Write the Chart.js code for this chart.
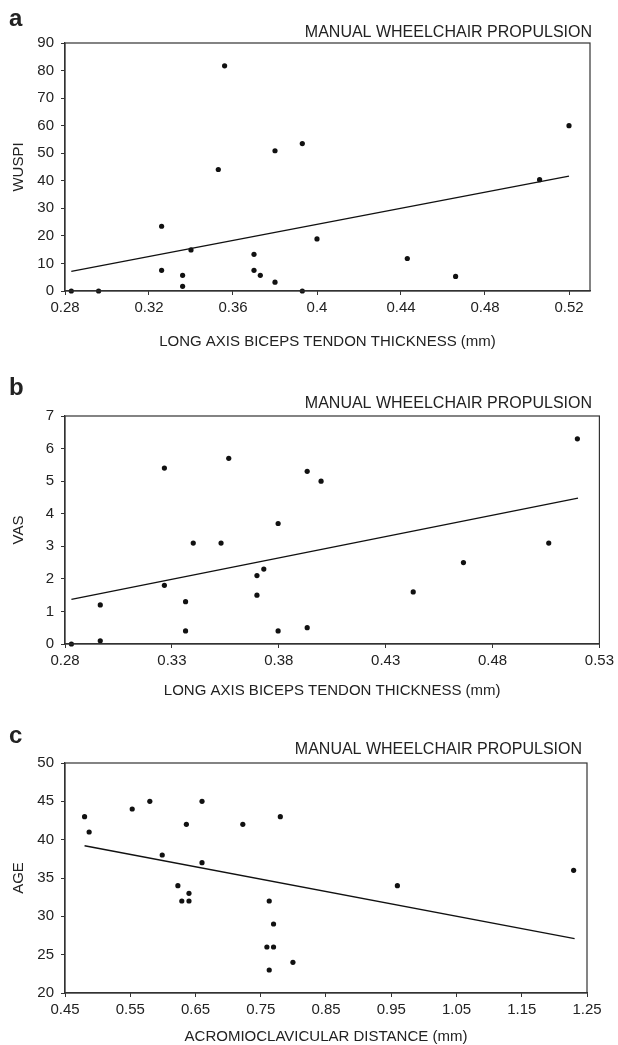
<!DOCTYPE html>
<html>
<head>
<meta charset="utf-8">
<script src="https://cdn.jsdelivr.net/npm/chart.js@4.4.1/dist/chart.umd.min.js"></script>
<style>
  html, body { margin: 0; padding: 0; background: #fff; }
  #wrap { position: relative; width: 618px; height: 1045px; }
  canvas { position: absolute; left: 0; }
</style>
</head>
<body>
<div id="wrap">
  <canvas id="panelA" width="618" height="350" style="top:0px"></canvas>
  <canvas id="panelB" width="618" height="350" style="top:350px"></canvas>
  <canvas id="panelC" width="618" height="345" style="top:700px"></canvas>
</div>
<script>
// panel a: WUSPI vs long axis biceps tendon thickness
var aX = [0.283, 0.296, 0.326, 0.326, 0.336, 0.336, 0.34, 0.353, 0.356, 0.37, 0.37, 0.373, 0.38, 0.38, 0.393, 0.393, 0.4, 0.443, 0.466, 0.506, 0.52];
var aY = [0, 0, 23.5, 7.5, 5.7, 1.7, 14.9, 44.1, 81.7, 13.3, 7.5, 5.7, 3.2, 50.9, 53.5, 0, 18.9, 11.8, 5.3, 40.4, 60];
var aLineX = [0.283, 0.52];
var aLineY = [7.1, 41.7];
var aXTicks = [0.28, 0.32, 0.36, 0.4, 0.44, 0.48, 0.52];
var aXTickLabels = ['0.28', '0.32', '0.36', '0.4', '0.44', '0.48', '0.52'];

// panel b: VAS vs long axis biceps tendon thickness
var bX = [0.283, 0.2965, 0.2965, 0.3265, 0.3265, 0.3364, 0.3364, 0.34, 0.353, 0.3566, 0.3698, 0.3698, 0.373, 0.3797, 0.3797, 0.3933, 0.3933, 0.3998, 0.4429, 0.4664, 0.5063, 0.5197];
var bY = [0, 0.1, 1.2, 5.4, 1.8, 1.3, 0.4, 3.1, 3.1, 5.7, 2.1, 1.5, 2.3, 3.7, 0.4, 5.3, 0.5, 5.0, 1.6, 2.5, 3.1, 6.3];
var bLineX = [0.283, 0.52];
var bLineY = [1.37, 4.48];
var bXTicks = [0.28, 0.33, 0.38, 0.43, 0.48, 0.53];
var bXTickLabels = ['0.28', '0.33', '0.38', '0.43', '0.48', '0.53'];

// panel c: age vs acromioclavicular distance
var cX = [0.48, 0.487, 0.553, 0.58, 0.599, 0.636, 0.623, 0.629, 0.64, 0.64, 0.66, 0.66, 0.7225, 0.78, 0.763, 0.7696, 0.7594, 0.7696, 0.763, 0.7993, 0.9594, 1.2295];
var cY = [43, 41, 44, 45, 38, 42, 34, 32, 33, 32, 45, 37, 42, 43, 32, 29, 26, 26, 23, 24, 34, 36];
var cLineX = [0.48, 1.231];
var cLineY = [39.2, 27.1];
var cXTicks = [0.45, 0.55, 0.65, 0.75, 0.85, 0.95, 1.05, 1.15, 1.25];
var cXTickLabels = ['0.45', '0.55', '0.65', '0.75', '0.85', '0.95', '1.05', '1.15', '1.25'];

var header = 'MANUAL WHEELCHAIR PROPULSION';
var font = '"Liberation Sans", Arial, Helvetica, sans-serif';
var ink = '#222';

function pts(xs, ys) {
    var out = [];
    for (var i = 0; i < xs.length; i++) out.push({x: xs[i], y: ys[i]});
    return out;
}

// draws frame, panel letter, header and axis titles
var labelsPlugin = {
    id: 'panelLabels',
    afterDraw: function(chart) {
        var o = chart.options.plugins.panelLabels;
        var ctx = chart.ctx, a = chart.chartArea;
        ctx.save();
        ctx.strokeStyle = '#333';
        ctx.lineWidth = 1.2;
        ctx.strokeRect(a.left, a.top, a.right - a.left, a.bottom - a.top);
        ctx.fillStyle = ink;
        ctx.textBaseline = 'alphabetic';
        ctx.font = 'bold 24px ' + font;
        ctx.textAlign = 'left';
        ctx.fillText(o.letter, 9, o.letterBase);
        ctx.font = '16px ' + font;
        ctx.textAlign = 'right';
        ctx.fillText(header, o.headerRight, o.headerBase);
        ctx.font = '15px ' + font;
        ctx.textAlign = 'center';
        ctx.textBaseline = 'middle';
        ctx.fillText(o.xTitle, (a.left + a.right) / 2, o.xTitleY);
        ctx.translate(19, (a.top + a.bottom) / 2);
        ctx.rotate(-Math.PI / 2);
        ctx.fillText(o.yTitle, 0, 0);
        ctx.restore();
    }
};

function makePanel(id, cfg) {
    var h = document.getElementById(id).height;
    new Chart(document.getElementById(id), {
        type: 'scatter',
        data: {
            datasets: [{
                data: pts(cfg.xs, cfg.ys),
                backgroundColor: '#111',
                borderWidth: 0,
                pointRadius: 2.6,
                clip: false
            }, {
                type: 'line',
                data: pts(cfg.lineX, cfg.lineY),
                borderColor: '#111',
                borderWidth: 1.4,
                pointRadius: 0,
                fill: false
            }]
        },
        options: {
            responsive: false,
            devicePixelRatio: 1,
            animation: false,
            layout: { padding: { top: cfg.top, right: 618 - cfg.right, bottom: 0, left: 0 } },
            plugins: {
                legend: { display: false },
                tooltip: { enabled: false },
                panelLabels: cfg.labels
            },
            scales: {
                x: {
                    type: 'linear',
                    min: cfg.xMin, max: cfg.xMax,
                    afterBuildTicks: function(s) { s.ticks = cfg.xTicks.map(function(v) { return {value: v}; }); },
                    afterFit: function(s) { s.height = h - cfg.bottom; },
                    grid: { drawOnChartArea: false, drawTicks: true, tickLength: 4, color: '#333' },
                    border: { display: true, color: '#333', width: 1.2 },
                    ticks: {
                        color: ink, font: { family: font, size: 15 }, padding: 4, maxRotation: 0, autoSkip: false,
                        callback: function(v, i) { return cfg.xLabels[i]; }
                    }
                },
                y: {
                    min: cfg.yMin, max: cfg.yMax,
                    afterFit: function(s) { s.width = cfg.left; },
                    grid: { drawOnChartArea: false, drawTicks: true, tickLength: 4, color: '#333' },
                    border: { display: true, color: '#333', width: 1.2 },
                    ticks: { color: ink, font: { family: font, size: 15 }, padding: 7, stepSize: cfg.step }
                }
            }
        },
        plugins: [labelsPlugin]
    });
}

makePanel('panelA', {
    xs: aX, ys: aY, lineX: aLineX, lineY: aLineY,
    xMin: 0.28, xMax: 0.53, xTicks: aXTicks, xLabels: aXTickLabels,
    yMin: 0, yMax: 90, step: 10,
    top: 43, bottom: 291, left: 65, right: 590,
    labels: { letter: 'a', letterBase: 26, headerRight: 592, headerBase: 37, xTitle: 'LONG AXIS BICEPS TENDON THICKNESS (mm)', xTitleY: 342, yTitle: 'WUSPI' }
});

makePanel('panelB', {
    xs: bX, ys: bY, lineX: bLineX, lineY: bLineY,
    xMin: 0.28, xMax: 0.53, xTicks: bXTicks, xLabels: bXTickLabels,
    yMin: 0, yMax: 7, step: 1,
    top: 66, bottom: 294, left: 65, right: 602,
    labels: { letter: 'b', letterBase: 45, headerRight: 592, headerBase: 58, xTitle: 'LONG AXIS BICEPS TENDON THICKNESS (mm)', xTitleY: 341, yTitle: 'VAS' }
});

makePanel('panelC', {
    xs: cX, ys: cY, lineX: cLineX, lineY: cLineY,
    xMin: 0.45, xMax: 1.25, xTicks: cXTicks, xLabels: cXTickLabels,
    yMin: 20, yMax: 50, step: 5,
    top: 63, bottom: 293, left: 65, right: 587,
    labels: { letter: 'c', letterBase: 43, headerRight: 582, headerBase: 54, xTitle: 'ACROMIOCLAVICULAR DISTANCE (mm)', xTitleY: 337, yTitle: 'AGE' }
});
</script>
</body>
</html>
